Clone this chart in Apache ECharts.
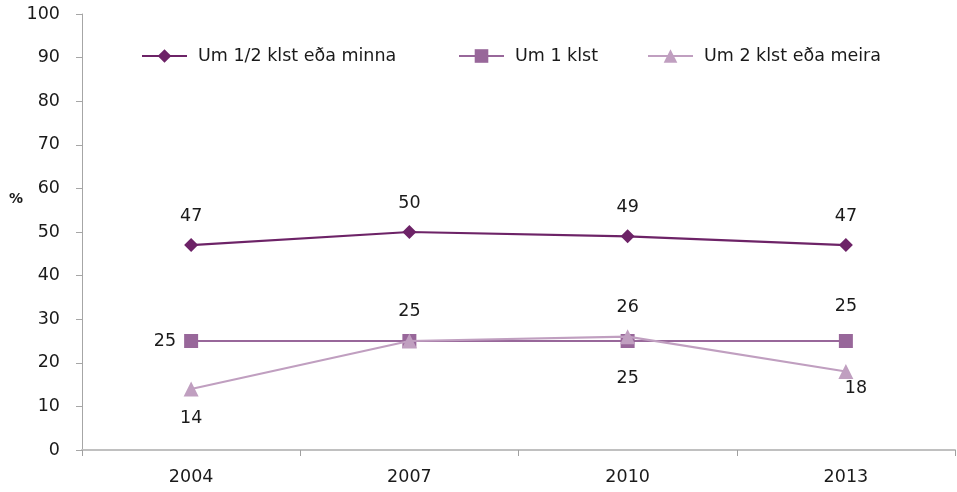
<!DOCTYPE html>
<html><head><meta charset="utf-8">
<script src="https://cdn.jsdelivr.net/npm/echarts@6/dist/echarts.min.js"></script>
<style>html,body{margin:0;padding:0;background:#fff}#c{width:957px;height:492px}</style>
</head><body><div id="c"></div>
<script>
const categories = ['2004', '2007', '2010', '2013'];
const seriesNames = ['Um 1/2 klst eða minna', 'Um 1 klst', 'Um 2 klst eða meira'];
const halfHour = [47, 50, 49, 47];
const oneHour = [25, 25, 25, 25];
const twoHours = [14, 25, 26, 18];
const yTicks = [0, 10, 20, 30, 40, 50, 60, 70, 80, 90, 100];

const FONT = 'DejaVu Sans';
const FS = 17.5;
const TXT = '#1a1a1a';
const lbl = (extra) => Object.assign({show: true, color: TXT, fontSize: FS, fontFamily: FONT}, extra);
const legendAt = (name, left) => ({
  top: 47, left: left, itemWidth: 45, itemHeight: 17, padding: 0,
  textStyle: {fontSize: FS, color: TXT, fontFamily: FONT, padding: [0, 0, 0, 6]},
  data: [name]
});

const chart = echarts.init(document.getElementById('c'));
chart.setOption({
  animation: false,
  textStyle: {fontFamily: FONT},
  grid: {left: 82, right: 2, top: 14, bottom: 42},
  legend: [legendAt(seriesNames[0], 141), legendAt(seriesNames[1], 458), legendAt(seriesNames[2], 647)],
  graphic: [{type: 'text', left: 9, top: 192, style: {text: '%', fontSize: 14, fontWeight: 'bold', fill: TXT, fontFamily: FONT}}],
  xAxis: {
    type: 'category', data: categories, boundaryGap: true,
    axisLine: {lineStyle: {color: '#c0c0c0', width: 2}},
    axisTick: {show: true, alignWithLabel: false, length: 6, lineStyle: {color: '#a0a0a0'}},
    axisLabel: {color: TXT, fontSize: FS, margin: 18, fontFamily: FONT}
  },
  yAxis: {
    type: 'value', min: yTicks[0], max: yTicks[yTicks.length - 1], interval: 10,
    splitLine: {show: false},
    axisLine: {show: true, lineStyle: {color: '#a6a6a6', width: 1}},
    axisTick: {show: true, length: 6, lineStyle: {color: '#a6a6a6'}},
    axisLabel: {color: TXT, fontSize: FS, margin: 22, fontFamily: FONT}
  },
  series: [
    {
      name: seriesNames[0], type: 'line', data: halfHour,
      symbol: 'diamond', symbolSize: 14,
      lineStyle: {color: '#6d2367', width: 2.2}, itemStyle: {color: '#6d2367'},
      label: lbl({position: 'top', distance: 13})
    },
    {
      name: seriesNames[1], type: 'line',
      data: oneHour.map((v, i) => ({
        value: v,
        label: i === 0 ? lbl({position: 'left', distance: 8})
             : i === 2 ? lbl({position: 'bottom', distance: 21})
             : i === 3 ? lbl({position: 'top', distance: 19})
             : {show: false}
      })),
      symbol: 'rect', symbolSize: 14, z: 3,
      lineStyle: {color: '#98679a', width: 2.2}, itemStyle: {color: '#98679a'}
    },
    {
      name: seriesNames[2], type: 'line',
      data: twoHours.map((v, i) => ({
        value: v,
        label: i === 0 ? lbl({position: 'bottom', distance: 13})
             : i === 1 ? lbl({position: 'top', distance: 13})
             : i === 2 ? lbl({position: 'top', distance: 13})
             : lbl({position: 'bottom', distance: 0, offset: [10, 0]})
      })),
      symbol: 'triangle', symbolSize: 15, z: 4,
      lineStyle: {color: '#c09fc0', width: 2.2}, itemStyle: {color: '#c09fc0'}
    }
  ]
});
</script></body></html>
